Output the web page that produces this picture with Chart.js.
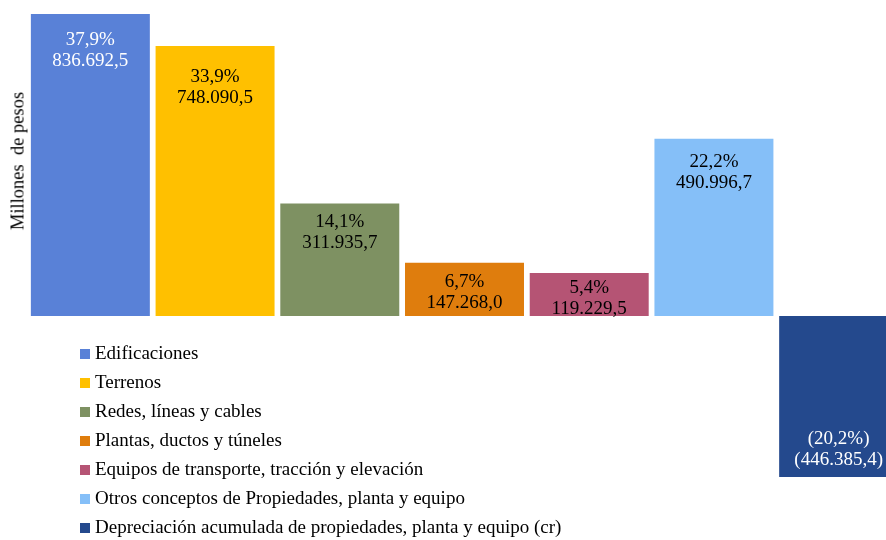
<!DOCTYPE html>
<html>
<head>
<meta charset="utf-8">
<script src="https://cdn.jsdelivr.net/npm/chart.js@4/dist/chart.umd.min.js"></script>
<style>
  html, body { margin: 0; padding: 0; background: #fff; overflow: hidden; }
  #wrap { position: relative; width: 902px; height: 540px; font-family: "Liberation Serif", "Times New Roman", serif; }
  #ytitle { position: absolute; left: 18px; top: 161px; transform: translate(-50%, -50%) rotate(-90deg);
            font-size: 18.5px; white-space: pre; color: #000; }
  #legend { position: absolute; left: 80px; top: 338px; font-size: 19px; color: #000; }
  #legend div { height: 29px; line-height: 29px; white-space: nowrap; }
  #legend span.box { display: inline-block; width: 10px; height: 10px; margin-right: 5px; vertical-align: 0px; }
</style>
</head>
<body>
<div id="wrap">
  <canvas id="chart" width="902" height="540"></canvas>
  <div id="ytitle">Millones  de pesos</div>
  <div id="legend"></div>
</div>
<script>
const categories = [
  "Edificaciones",
  "Terrenos",
  "Redes, líneas y cables",
  "Plantas, ductos y túneles",
  "Equipos de transporte, tracción y elevación",
  "Otros conceptos de Propiedades, planta y equipo",
  "Depreciación acumulada de propiedades, planta y equipo (cr)"
];
const values = [836692.5, 748090.5, 311935.7, 147268.0, 119229.5, 490996.7, -446385.4];
const percentLabels = ["37,9%", "33,9%", "14,1%", "6,7%", "5,4%", "22,2%", "(20,2%)"];
const valueLabels = ["836.692,5", "748.090,5", "311.935,7", "147.268,0", "119.229,5", "490.996,7", "(446.385,4)"];
const colors = ["#5981D7", "#FFC000", "#7E9162", "#DF7D0D", "#B55474", "#85BFF8", "#24498D"];
const labelColors = ["#ffffff", "#000000", "#000000", "#000000", "#000000", "#000000", "#ffffff"];

// legend
const legend = document.getElementById("legend");
categories.forEach((c, i) => {
  const row = document.createElement("div");
  row.innerHTML = '<span class="box" style="background:' + colors[i] + '"></span>' + c;
  legend.appendChild(row);
});

// label placement inside each bar (distance of first line from the bar end)
const labelOffsets = [26, 31, 19, 19, 15, 23, 38];

const barLabels = {
  id: "barLabels",
  afterDatasetsDraw(chart) {
    const ctx = chart.ctx;
    const meta = chart.getDatasetMeta(0);
    ctx.save();
    ctx.font = '19px "Liberation Serif", "Times New Roman", serif';
    ctx.textAlign = "center";
    ctx.textBaseline = "middle";
    meta.data.forEach((bar, i) => {
      ctx.fillStyle = labelColors[i];
      const y1 = values[i] >= 0 ? bar.y + labelOffsets[i] : bar.y - labelOffsets[i];
      ctx.fillText(percentLabels[i], bar.x, y1);
      ctx.fillText(valueLabels[i], bar.x, y1 + 21);
    });
    ctx.restore();
  }
};

new Chart(document.getElementById("chart").getContext("2d"), {
  type: "bar",
  data: {
    labels: categories,
    datasets: [{
      data: values,
      backgroundColor: colors,
      borderWidth: 0,
      categoryPercentage: 1,
      barPercentage: 0.954
    }]
  },
  options: {
    responsive: false,
    animation: false,
    layout: { padding: { left: 28, right: 1, top: 14, bottom: 0 } },
    plugins: { legend: { display: false }, tooltip: { enabled: false } },
    scales: {
      x: { display: false },
      y: { display: false, min: -620600, max: 836692.5 }
    }
  },
  plugins: [barLabels]
});
</script>
</body>
</html>
